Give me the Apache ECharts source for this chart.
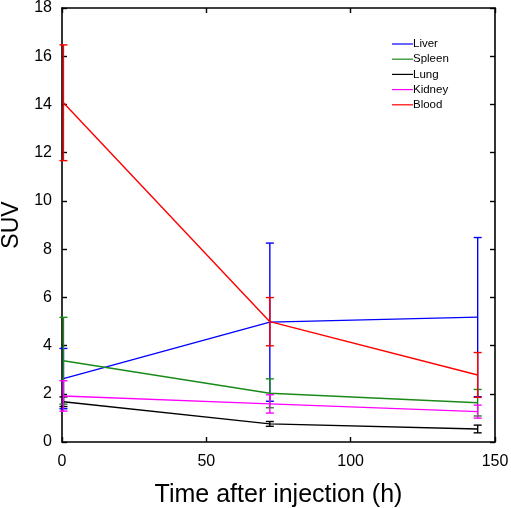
<!DOCTYPE html>
<html>
<head>
<meta charset="utf-8">
<script src="https://cdn.jsdelivr.net/npm/echarts@6/dist/echarts.min.js"></script>
<style>html,body{margin:0;padding:0;background:#fff}#c{width:511px;height:508px}</style>
</head>
<body>
<div id="c"></div>
<script>
var times = [0.5, 72, 144];
var seriesNames = ['Liver', 'Spleen', 'Lung', 'Kidney', 'Blood'];
var liverMean = [2.63, 4.97, 5.18];
var liverErr = [1.25, 3.28, 3.3];
var spleenMean = [3.37, 2.02, 1.63];
var spleenErr = [1.8, 0.6, 0.55];
var lungMean = [1.67, 0.75, 0.54];
var lungErr = [0.2, 0.1, 0.16];
var kidneyMean = [1.91, 1.58, 1.26];
var kidneyErr = [0.63, 0.38, 0.27];
var bloodMean = [14.07, 4.99, 2.78];
var bloodErr = [2.4, 1.0, 0.93];
var xTicks = [0, 50, 100, 150];
var yTicks = [0, 2, 4, 6, 8, 10, 12, 14, 16, 18];

var colors = ['#0000ff', '#1a8a1a', '#000000', '#ff00ff', '#ff0000'];
var means = [liverMean, spleenMean, lungMean, kidneyMean, bloodMean];
var errs = [liverErr, spleenErr, lungErr, kidneyErr, bloodErr];

var chart = echarts.init(document.getElementById('c'), null, {renderer: 'canvas'});
var series = [];
seriesNames.forEach(function (name, i) {
  series.push({
    name: name, type: 'line', symbol: 'none', showSymbol: false,
    lineStyle: {color: colors[i], width: 1.4}, itemStyle: {color: colors[i]},
    data: times.map(function (t, j) { return [t, means[i][j]]; }),
    z: 2 + i
  });
  series.push({
    name: name, type: 'custom', z: 2 + i,
    data: times.map(function (t, j) { return [t, means[i][j] - errs[i][j], means[i][j] + errs[i][j]]; }),
    renderItem: function (params, api) {
      var lo = api.coord([api.value(0), api.value(1)]);
      var hi = api.coord([api.value(0), api.value(2)]);
      var w = 4;
      var st = {stroke: colors[i], lineWidth: 1.4, fill: null};
      return {type: 'group', children: [
        {type: 'line', shape: {x1: lo[0], y1: lo[1], x2: hi[0], y2: hi[1]}, style: st},
        {type: 'line', shape: {x1: lo[0] - w, y1: lo[1], x2: lo[0] + w, y2: lo[1]}, style: st},
        {type: 'line', shape: {x1: hi[0] - w, y1: hi[1], x2: hi[0] + w, y2: hi[1]}, style: st}
      ]};
    },
    encode: {x: 0, y: [1, 2]}
  });
});

var axisCommon = {
  axisLine: {show: true, onZero: false, lineStyle: {color: '#000', width: 1.6}},
  axisTick: {show: true, inside: true, length: 5, lineStyle: {color: '#000', width: 1.4}},
  splitLine: {show: false}
};

var option = {
  animation: false,
  backgroundColor: '#fff',
  grid: {left: 62, right: 16, top: 8, bottom: 66, containLabel: false, outerBoundsMode: 'none'},
  legend: {
    data: seriesNames.map(function (n, i) {
      return {name: n, itemStyle: {color: colors[i], borderWidth: 0}, lineStyle: {color: colors[i], width: 1.2, opacity: 0.75}};
    }),
    orient: 'vertical', left: 387, top: 33,
    itemWidth: 21, itemHeight: 10, itemGap: 3.2,
    textStyle: {fontFamily: 'Liberation Sans', fontSize: 11.5, color: '#000', padding: [0, 0, 0, -5]},
    icon: 'path://M0,5 L21,5 L21,6.2 L0,6.2 Z'
  },
  xAxis: [
    Object.assign({}, axisCommon, {
      type: 'value', min: 0, max: 150, interval: 50,
      name: 'Time after injection (h)', nameLocation: 'middle', nameGap: 41,
      nameTextStyle: {fontFamily: 'Liberation Sans', fontSize: 25, color: '#000'},
      axisLabel: {fontFamily: 'Liberation Sans', fontSize: 16, color: '#000', margin: 12}
    }),
    Object.assign({}, axisCommon, {
      type: 'value', min: 0, max: 150, interval: 50, position: 'top',
      axisLabel: {show: false}
    })
  ],
  yAxis: [
    Object.assign({}, axisCommon, {
      type: 'value', min: 0, max: 18, interval: 2,
      name: 'SUV', nameLocation: 'middle', nameGap: 38,
      nameTextStyle: {fontFamily: 'Liberation Sans', fontSize: 23, color: '#000'},
      axisLabel: {fontFamily: 'Liberation Sans', fontSize: 16, color: '#000', margin: 10}
    }),
    Object.assign({}, axisCommon, {
      type: 'value', min: 0, max: 18, interval: 2, position: 'right',
      axisLabel: {show: false}
    })
  ],
  series: series
};
chart.setOption(option);
</script>
</body>
</html>
